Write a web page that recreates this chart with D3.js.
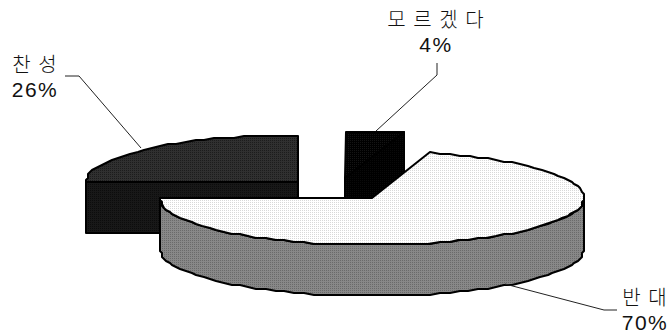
<!DOCTYPE html>
<html lang="ko">
<head>
<meta charset="utf-8">
<style>
  html, body { margin: 0; padding: 0; background: #fff; }
  svg { display: block; }
  text { fill: #111; }
</style>
<script src="https://cdn.jsdelivr.net/npm/d3@7/dist/d3.min.js"></script>
</head>
<body>
<svg id="chart" width="668" height="333"></svg>
<script>
// Chart values, in the order the slices run clockwise from the left
const categories = ["찬 성", "모 르 겠 다", "반 대"];
const percents = [26, 4, 70];
const percentLabels = ["26%", "4%", "70%"];

const rx = 212;
const ry = 47;
const depth = 51;

// Slices are exploded, so each one has its own centre
const centres = [[298, 182], [345, 178], [372, 198]];
const topFills = ["topDark", "topBlack", "topLight"];
const wallFills = ["wallDark", "wallBlack", "wallGrey"];

// The 3D view shifts the slice edges a little from their true angles
const viewAngle = d3.scaleLinear()
  .domain([-90, 3.6, 18, 270].map(d => d * Math.PI / 180))
  .range([-90, 0, 16, 270].map(d => d * Math.PI / 180));

const svg = d3.select("#chart");
const defs = svg.append("defs");

function addPattern(id, base, dot) {
  const p = defs.append("pattern")
    .attr("id", id)
    .attr("width", 2)
    .attr("height", 2)
    .attr("patternUnits", "userSpaceOnUse");
  p.append("rect").attr("width", 2).attr("height", 2).attr("fill", base);
  p.append("rect").attr("width", 1).attr("height", 1).attr("fill", dot);
}

addPattern("topLight", "#ffffff", "#d8d8d8");
addPattern("wallGrey", "#888888", "#6a6a6a");
addPattern("topDark", "#303030", "#1c1c1c");
addPattern("wallDark", "#181818", "#0c0c0c");
addPattern("topBlack", "#000000", "#141414");
addPattern("wallBlack", "#000000", "#0a0a0a");

const slices = d3.pie().sort(null).startAngle(-Math.PI / 2).endAngle(3 * Math.PI / 2)(percents);

// Point on the rim of a slice, snapped to a coarse grid like the blocky original
function rimPoint(i, angle, drop) {
  const [cx, cy] = centres[i];
  return [
    Math.round((cx + rx * Math.sin(angle)) / 2) * 2,
    Math.round((cy - ry * Math.cos(angle)) / 2) * 2 + drop
  ];
}

function rimPoints(i, from, to, drop) {
  const steps = Math.max(2, Math.round(Math.abs(to - from) / 0.05));
  return d3.range(steps + 1).map(k => rimPoint(i, from + (to - from) * k / steps, drop));
}

const line = d3.line().curve(d3.curveLinear);

// Draw the slices back to front so the big one covers the others
slices.forEach((s, i) => {
  const a0 = viewAngle(s.startAngle);
  const a1 = viewAngle(s.endAngle);
  const [cx, cy] = centres[i];
  const g = svg.append("g");

  // Wall: the front rim if the slice has one, otherwise the cut face that looks at us
  let wall;
  if (a1 > Math.PI / 2) {
    const from = Math.max(a0, Math.PI / 2);
    wall = rimPoints(i, from, a1, 0).concat(rimPoints(i, a1, from, depth));
  } else {
    const tip = rimPoint(i, a0 < 0 ? a0 : a1, 0);
    wall = [tip, [cx, cy], [cx, cy + depth], [tip[0], tip[1] + depth]];
  }
  g.append("path")
    .attr("d", line(wall) + "Z")
    .attr("fill", `url(#${wallFills[i]})`)
    .attr("stroke", "#000")
    .attr("stroke-width", 2)
    .attr("stroke-linejoin", "round");

  const top = [[cx, cy]].concat(rimPoints(i, a0, a1, 0));
  g.append("path")
    .attr("d", line(top) + "Z")
    .attr("fill", `url(#${topFills[i]})`)
    .attr("stroke", "#000")
    .attr("stroke-width", 2)
    .attr("stroke-linejoin", "round");
});

// Leader lines
const leaders = [
  [[65, 76], [79, 76], [141, 148]],
  [[437, 63], [437, 75], [376, 131]],
  [[505, 284], [604, 310], [617, 310]]
];

svg.selectAll("path.leader")
  .data(leaders)
  .join("path")
  .attr("class", "leader")
  .attr("d", d => line(d))
  .attr("fill", "none")
  .attr("stroke", "#222")
  .attr("stroke-width", 1);

// Labels, two lines each
const labelPos = [[35, 72, 97], [436, 27, 52], [645, 304.5, 329.5]];

categories.forEach((c, i) => {
  const [x, y1, y2] = labelPos[i];
  svg.append("text")
    .attr("x", x)
    .attr("y", y1)
    .attr("text-anchor", "middle")
    .attr("font-family", "'Noto Sans CJK KR', sans-serif")
    .attr("font-weight", 300)
    .attr("font-size", 20)
    .attr("letter-spacing", 1)
    .text(c);
  svg.append("text")
    .attr("x", x)
    .attr("y", y2)
    .attr("text-anchor", "middle")
    .attr("font-family", "'Liberation Sans', Arial, sans-serif")
    .attr("font-size", 21)
    .attr("letter-spacing", 1.5)
    .text(percentLabels[i]);
});
</script>
</body>
</html>
